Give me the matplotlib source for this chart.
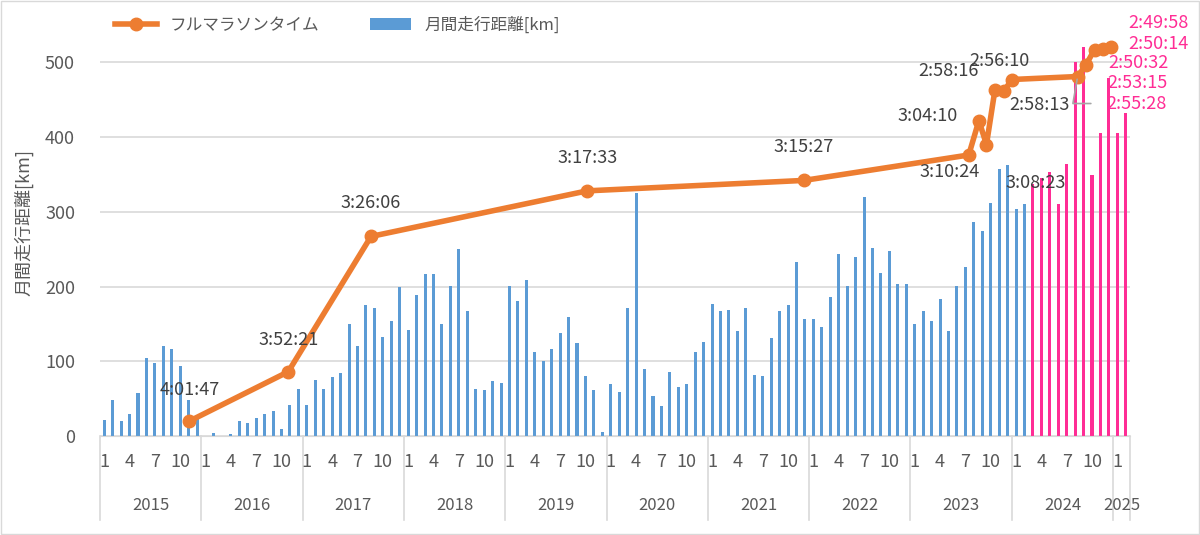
import matplotlib
matplotlib.use("Agg")
import matplotlib.pyplot as plt
from matplotlib.transforms import blended_transform_factory
import numpy as np

plt.rcParams['font.family'] = ['Noto Sans CJK JP', 'DejaVu Sans']

years = ["2015", "2016", "2017", "2018", "2019", "2020", "2021", "2022", "2023", "2024", "2025"]
months_per_year = [12, 12, 12, 12, 12, 12, 12, 12, 12, 12, 2]
# Jan 2015 - Feb 2024
blue_km = [22, 48, 20, 30, 57, 105, 98, 120, 116, 94, 48, 23,
           0, 4, 0, 3, 20, 18, 24, 29, 34, 9, 41, 63,
           42, 75, 63, 79, 84, 150, 121, 175, 171, 133, 154, 200,
           142, 188, 217, 217, 150, 201, 250, 167, 63, 61, 74, 71,
           201, 181, 209, 112, 101, 116, 138, 159, 124, 80, 61, 5,
           69, 59, 171, 325, 90, 53, 40, 86, 65, 70, 112, 126,
           177, 167, 169, 141, 171, 82, 80, 131, 167, 175, 233, 156,
           156, 146, 186, 243, 201, 239, 320, 251, 218, 247, 203, 204,
           150, 167, 154, 183, 141, 201, 226, 286, 274, 312, 357, 362,
           304, 311]
# Mar 2024 - Feb 2025
pink_km = [337, 345, 353, 310, 364, 501, 521, 349, 405, 479, 405, 432]

# race positions (month index, fractional) and plotted values
race_x = [10.1, 21.8, 31.6, 57.2, 82.9, 102.4, 103.6, 104.5, 105.5, 106.6, 107.5,
          115.3, 116.3, 117.3, 118.3, 119.3]
race_y = [20, 86, 267, 328, 342, 376, 422, 390, 463, 462, 477, 481, 497, 517, 518, 521]
race_time = ["4:01:47", "3:52:21", "3:26:06", "3:17:33", "3:15:27", "3:10:24", "3:04:10",
             "3:08:23", "2:58:16", "2:58:13", "2:56:10", "2:55:28", "2:53:15", "2:50:32",
             "2:50:14", "2:49:58"]
# label offsets in pixels (dx, dy)
lab_off = [(0, 31), (0, 32), (0, 33), (0, 33), (0, 33), (-19, -17), (-51, 5), (49, -38),
           (-46, 19), (35, -14), (-12, 19), (59, -27), (51, -18), (44, -13), (55, 5), (47, 24)]
pink_color = "#ff2d95"

fig = plt.figure(figsize=(12, 5.35), dpi=100)
ax = fig.add_axes([100/1200, 99/535, 1030/1200, 426/535])

n_blue = len(blue_km)
xb = np.arange(n_blue)
xp = np.arange(n_blue, n_blue + len(pink_km))
ax.bar(xb, blue_km, width=0.36, color="#5b9bd5", zorder=2, label="月間走行距離[km]")
ax.bar(xp, pink_km, width=0.36, color=pink_color, zorder=2)
ax.plot(race_x, race_y, color="#ed7d31", lw=4, marker="o", ms=9, zorder=3,
        label="フルマラソンタイム")

for i, (x, y, t) in enumerate(zip(race_x, race_y, race_time)):
    col = pink_color if i >= 11 else "#404040"
    dx, dy = lab_off[i]
    ax.annotate(t, (x, y), xytext=(dx, dy), textcoords="offset pixels",
                ha="center", va="center", fontsize=13, color=col, zorder=4)
# leader line for 2:55:28
ax.annotate("", (race_x[11], race_y[11]), xytext=(16, -27), textcoords="offset pixels",
            arrowprops=dict(arrowstyle="-", color="#a6a6a6", lw=1.2,
                            connectionstyle="angle,angleA=0,angleB=80,rad=0"))

total = sum(months_per_year)
ax.set_xlim(-0.5, total - 0.5)
ax.set_ylim(0, 570)
ax.set_yticks([0, 100, 200, 300, 400, 500])
ax.tick_params(axis="y", length=0, labelsize=13, labelcolor="#595959", pad=18)
ax.set_xticks([])
ax.grid(axis="y", color="#d9d9d9", lw=1.2, zorder=0)
for s in ["top", "right", "left"]:
    ax.spines[s].set_visible(False)
ax.spines["bottom"].set_color("#d9d9d9")
ax.set_ylabel("月間走行距離[km]", fontsize=13, color="#595959", labelpad=8)

tr = blended_transform_factory(ax.transData, ax.transAxes)
yb = -84 / 426
start = 0
for yr, nm in zip(years, months_per_year):
    ax.plot([start - 0.5, start - 0.5], [0, yb], transform=tr, color="#d9d9d9", lw=1.2,
            clip_on=False)
    for m in [1, 4, 7, 10]:
        if m <= nm:
            ax.text(start + m - 1, -26 / 426, str(m), transform=tr, ha="center", va="center",
                    fontsize=13, color="#595959")
    ax.text(start + (nm - 1) / 2, -70 / 426, yr, transform=tr, ha="center", va="center",
            fontsize=12, color="#595959")
    start += nm
ax.plot([start - 0.5, start - 0.5], [0, yb], transform=tr, color="#d9d9d9", lw=1.2,
        clip_on=False)

ax.legend(loc="upper left", bbox_to_anchor=(0.0, 1.02), ncol=2, frameon=False, fontsize=12,
          labelcolor="#595959", handlelength=2.5, columnspacing=3)

fig.patches.append(plt.Rectangle((0.001, 0.001), 0.998, 0.997, transform=fig.transFigure,
                                 fill=False, edgecolor="#d9d9d9", lw=1))
fig.savefig("out.png", dpi=100, facecolor="white")
